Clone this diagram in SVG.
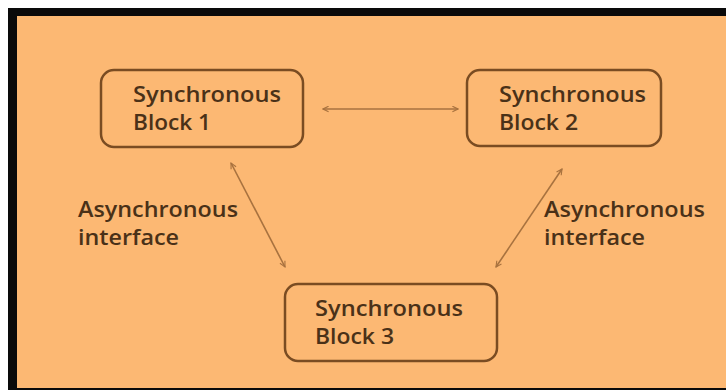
<svg xmlns="http://www.w3.org/2000/svg" width="726" height="390" viewBox="0 0 726 390">
  <defs>
    <marker id="ah" viewBox="0 0 10 10" refX="9" refY="5" markerWidth="7" markerHeight="7" markerUnits="userSpaceOnUse" orient="auto-start-reverse">
      <path d="M1,1 L9,5 L1,9" fill="none" stroke="#a8723f" stroke-width="1.6"/>
    </marker>
    <style>
      .box { fill: #fcb873; stroke: #7a4c22; stroke-width: 2.5; }
      .t { font-family: "Open Sans", "Liberation Sans", sans-serif; font-size: 21px; font-weight: 600; fill: #4a3118; }
      .c { fill: none; stroke: #a8723f; stroke-width: 1.6; marker-start: url(#ah); marker-end: url(#ah); }
    </style>
  </defs>
  <rect x="0" y="0" width="726" height="390" fill="#ffffff"/>
  <rect x="8" y="8" width="718" height="382" fill="#0a0a0a"/>
  <rect x="17" y="16" width="709" height="372" fill="#fcb873"/>

  <g id="connectors">
    <line class="c" x1="323" y1="109" x2="458" y2="109"/>
    <line class="c" x1="231" y1="163" x2="285" y2="267"/>
    <line class="c" x1="562" y1="169" x2="496" y2="267"/>
  </g>

  <g id="block1">
    <rect class="box" x="101" y="70" width="202" height="77" rx="13"/>
    <text class="t" x="133" y="102" textLength="148" lengthAdjust="spacingAndGlyphs">Synchronous</text>
    <text class="t" x="133" y="130" textLength="78" lengthAdjust="spacingAndGlyphs">Block 1</text>
  </g>
  <g id="block2">
    <rect class="box" x="467" y="70" width="194" height="76" rx="13"/>
    <text class="t" x="499" y="102" textLength="147" lengthAdjust="spacingAndGlyphs">Synchronous</text>
    <text class="t" x="499" y="130" textLength="79" lengthAdjust="spacingAndGlyphs">Block 2</text>
  </g>
  <g id="block3">
    <rect class="box" x="285" y="284" width="212" height="77" rx="13"/>
    <text class="t" x="315" y="316" textLength="148" lengthAdjust="spacingAndGlyphs">Synchronous</text>
    <text class="t" x="315" y="344" textLength="79" lengthAdjust="spacingAndGlyphs">Block 3</text>
  </g>
  <g id="label-left">
    <text class="t" x="78" y="217" textLength="160" lengthAdjust="spacingAndGlyphs">Asynchronous</text>
    <text class="t" x="78" y="245" textLength="101" lengthAdjust="spacingAndGlyphs">interface</text>
  </g>
  <g id="label-right">
    <text class="t" x="544" y="217" textLength="161" lengthAdjust="spacingAndGlyphs">Asynchronous</text>
    <text class="t" x="544" y="245" textLength="101" lengthAdjust="spacingAndGlyphs">interface</text>
  </g>
</svg>
